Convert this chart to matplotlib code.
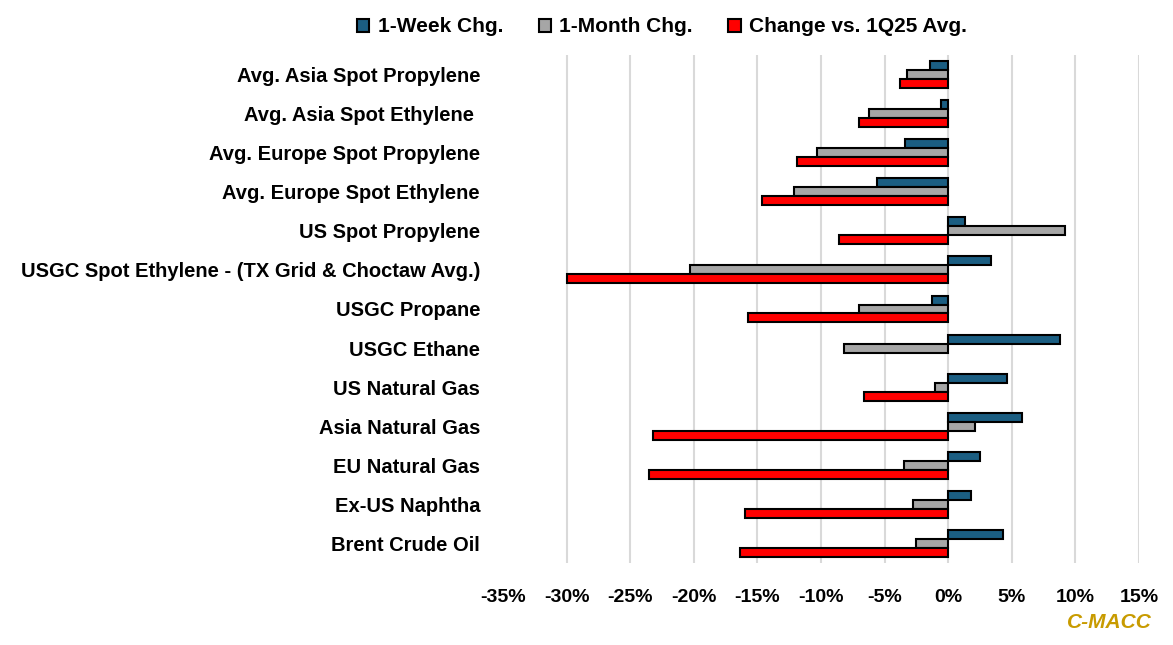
import numpy as np
import matplotlib.pyplot as plt
from matplotlib.ticker import FuncFormatter

# category names, top to bottom
cats = ['Avg. Asia Spot Propylene', 'Avg. Asia Spot Ethylene ', 'Avg. Europe Spot Propylene',
        'Avg. Europe Spot Ethylene', 'US Spot Propylene',
        'USGC Spot Ethylene - (TX Grid & Choctaw Avg.)', 'USGC Propane', 'USGC Ethane',
        'US Natural Gas', 'Asia Natural Gas', 'EU Natural Gas', 'Ex-US Naphtha', 'Brent Crude Oil']

# values in % (nan = no bar shown)
week = [-1.4, -0.6, -3.4, -5.6, 1.3, 3.4, -1.3, 8.8, 4.6, 5.8, 2.5, 1.8, 4.3]
month = [-3.2, -6.2, -10.3, -12.1, 9.2, -20.3, -7.0, -8.2, -1.0, 2.1, -3.5, -2.8, -2.5]
vs_1q25 = [-3.8, -7.0, -11.9, -14.6, -8.6, -30.0, -15.7, np.nan, -6.6, -23.2, -23.5, -16.0, -16.4]

xticks = [-35, -30, -25, -20, -15, -10, -5, 0, 5, 10, 15]

plt.rcParams['font.family'] = ['Liberation Sans', 'DejaVu Sans']

fig = plt.figure(figsize=(11.73, 6.45), dpi=100)
ax = fig.add_axes([503/1173, 1-563/645, (1139-503)/1173, (563-55)/645])

y = np.arange(len(cats))
h = 0.23
ax.barh(y - h, week, height=h, color='#1B5E82', edgecolor='black', linewidth=1.5,
        label='1-Week Chg.', zorder=3)
ax.barh(y, month, height=h, color='#A6A6A6', edgecolor='black', linewidth=1.5,
        label='1-Month Chg.', zorder=3)
ax.barh(y + h, vs_1q25, height=h, color='#FF0000', edgecolor='black', linewidth=1.5,
        label='Change vs. 1Q25 Avg.', zorder=3)

ax.set_xlim(-35, 15)
ax.set_ylim(len(cats) - 0.5, -0.5)
ax.set_xticks(xticks)
ax.xaxis.set_major_formatter(FuncFormatter(lambda v, p: '%d%%' % v))
ax.set_yticks(y)
ax.set_yticklabels(cats)
ax.tick_params(axis='both', length=0)
ax.tick_params(axis='y', pad=16.5, labelsize=14.5)
ax.tick_params(axis='x', pad=19, labelsize=14)
for lab in ax.get_xticklabels() + ax.get_yticklabels():
    lab.set_fontweight('bold')

# gridlines (none on the left edge)
for xv in xticks[1:]:
    ax.axvline(xv, color='#D9D9D9', linewidth=1.5, zorder=0)
for s in ax.spines.values():
    s.set_visible(False)

leg = fig.legend(loc='center', bbox_to_anchor=(662/1173, 1-27/645), ncol=3, frameon=False,
                 prop={'weight': 'bold', 'size': 15}, handlelength=0.6, handleheight=0.6,
                 handletextpad=0.4, columnspacing=1.7)

fig.text(1152/1173, 1-623/645, 'C-MACC', color='#C89B00', fontsize=15, fontweight='bold',
         style='italic', ha='right', va='center')

fig.savefig('out.png', dpi=100)
